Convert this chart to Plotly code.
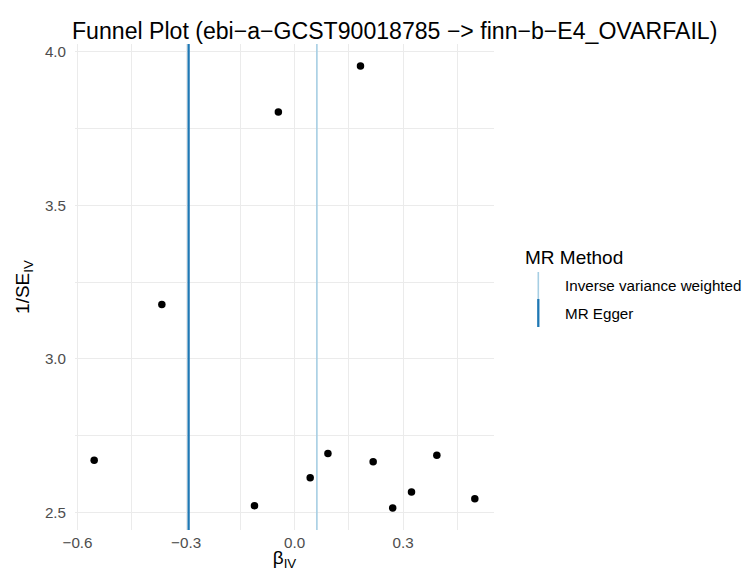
import plotly.graph_objects as go

# Data
beta_iv = [-0.554, -0.367, -0.111, -0.045, 0.043, 0.092, 0.182, 0.217, 0.271, 0.323, 0.393, 0.498]
inv_se = [2.670, 3.177, 2.522, 3.804, 2.613, 2.692, 3.953, 2.665, 2.515, 2.567, 2.686, 2.545]

methods = ["Inverse variance weighted", "MR Egger"]
method_estimates = [0.0615, -0.293]
method_colors = ["#a6cee3", "#1f78b4"]
method_widths = [1.6, 2.3]

x_ticks = [-0.6, -0.3, 0.0, 0.3]
x_tick_labels = ["−0.6", "−0.3", "0.0", "0.3"]
y_ticks = [2.5, 3.0, 3.5, 4.0]
y_tick_labels = ["2.5", "3.0", "3.5", "4.0"]

FONT = "Liberation Sans, Arial, Helvetica, sans-serif"

W, H = 747, 571
ml, mr, mt, mb = 75, 253, 44, 41
pw, ph = W - ml - mr, H - mt - mb


def px_to_paper(px, py):
    return (px - ml) / pw, 1 - (py - mt) / ph


fig = go.Figure()

fig.add_trace(go.Scatter(
    x=beta_iv, y=inv_se, mode="markers",
    marker=dict(color="black", size=7.5),
    showlegend=False, hoverinfo="x+y",
))

for m, est, col, w in zip(methods, method_estimates, method_colors, method_widths):
    fig.add_shape(type="line", xref="x", yref="paper", x0=est, x1=est, y0=0, y1=1,
                  line=dict(color=col, width=w), layer="above")

# Manual legend (vertical keys like ggplot)
tx, ty = px_to_paper(523, 257)
fig.add_annotation(text="MR Method", xref="paper", yref="paper", x=tx, y=ty,
                   xanchor="left", yanchor="middle", showarrow=False,
                   font=dict(size=19, color="black", family=FONT))
key_spans = [(272, 299), (299, 327)]
label_y = [285, 313]
for m, col, w, (y0, y1), ly in zip(methods, method_colors, method_widths, key_spans, label_y):
    kx, ky0 = px_to_paper(538.3, y0)
    _, ky1 = px_to_paper(538.3, y1)
    fig.add_shape(type="line", xref="paper", yref="paper", x0=kx, x1=kx, y0=ky0, y1=ky1,
                  line=dict(color=col, width=w))
    lx, lyy = px_to_paper(563, ly)
    fig.add_annotation(text=m, xref="paper", yref="paper", x=lx, y=lyy,
                       xanchor="left", yanchor="middle", showarrow=False,
                       font=dict(size=15.2, color="black", family=FONT))

fig.update_layout(
    width=W, height=H,
    margin=dict(l=ml, r=mr, t=mt, b=mb, autoexpand=False),
    paper_bgcolor="white", plot_bgcolor="white",
    font=dict(family=FONT, color="black"),
    title=dict(text="Funnel Plot (ebi−a−GCST90018785 −> finn−b−E4_OVARFAIL)",
               x=72 / W, xanchor="left", y=1 - 31 / H, yanchor="middle",
               font=dict(size=23.1, color="black", family=FONT)),
    showlegend=False,
    xaxis=dict(
        range=[-0.607, 0.551], tickvals=x_ticks, ticktext=x_tick_labels,
        automargin=False,
        showgrid=True, gridcolor="#EBEBEB", gridwidth=1.1, zeroline=False,
        showline=False, ticks="", ticklabelstandoff=2,
        tickfont=dict(size=15.2, color="#4D4D4D", family=FONT),
        minor=dict(tickvals=[-0.45, -0.15, 0.15, 0.45], showgrid=True,
                   gridcolor="#EBEBEB", gridwidth=0.7),
        title=dict(text="β<sub>IV</sub>", standoff=0,
                   font=dict(size=19, color="black", family=FONT)),
    ),
    yaxis=dict(
        range=[2.443, 4.025], tickvals=y_ticks, ticktext=y_tick_labels,
        automargin=False,
        showgrid=True, gridcolor="#EBEBEB", gridwidth=1.1, zeroline=False,
        showline=False, ticks="", ticklabelstandoff=8,
        tickfont=dict(size=15.2, color="#4D4D4D", family=FONT),
        minor=dict(tickvals=[2.75, 3.25, 3.75], showgrid=True,
                   gridcolor="#EBEBEB", gridwidth=0.7),
        title=dict(text="1/SE<sub>IV</sub>", standoff=10,
                   font=dict(size=19, color="black", family=FONT)),
    ),
)

fig.write_html("out.html", config={"displayModeBar": False},
               post_script="document.body.style.margin='0';document.body.style.overflow='hidden';")
